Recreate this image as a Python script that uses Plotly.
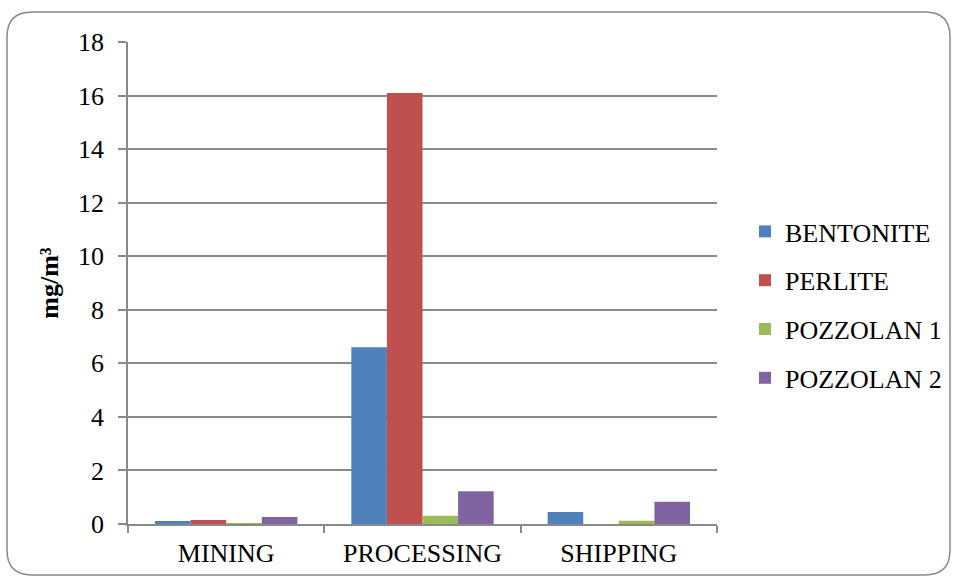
import plotly.graph_objects as go

categories = ["MINING", "PROCESSING", "SHIPPING"]
series_names = ["BENTONITE", "PERLITE", "POZZOLAN 1", "POZZOLAN 2"]
bentonite = [0.11, 6.6, 0.45]
perlite = [0.15, 16.1, 0.0]
pozzolan1 = [0.03, 0.31, 0.12]
pozzolan2 = [0.26, 1.22, 0.83]
series_values = [bentonite, perlite, pozzolan1, pozzolan2]
colors = ["#4F81BD", "#C0504D", "#9BBB59", "#8064A2"]
y_ticks = list(range(0, 19, 2))

W, H = 957, 581
ML, MR, MT, MB = 128, 240, 42, 57
PW, PH = W - ML - MR, H - MT - MB
FONT = "Times New Roman, Liberation Serif, serif"
FS = 26
GRAY = "#898989"

fig = go.Figure()
for i, (name, vals) in enumerate(zip(series_names, series_values)):
    fig.add_trace(go.Bar(
        x=categories, y=vals, name=name, legendgroup=name,
        marker=dict(color=colors[i], line=dict(width=0)),
    ))


def px_x(p):
    return (p - ML) / PW


def px_y(p):
    return (H - MB - p) / PH


# rounded border around the whole chart
x0, y0, x1, y1, r = 7, 12, 950, 575, 25
pts = [
    f"M {px_x(x0 + r)},{px_y(y0)}",
    f"L {px_x(x1 - r)},{px_y(y0)}",
    f"Q {px_x(x1)},{px_y(y0)} {px_x(x1)},{px_y(y0 + r)}",
    f"L {px_x(x1)},{px_y(y1 - r)}",
    f"Q {px_x(x1)},{px_y(y1)} {px_x(x1 - r)},{px_y(y1)}",
    f"L {px_x(x0 + r)},{px_y(y1)}",
    f"Q {px_x(x0)},{px_y(y1)} {px_x(x0)},{px_y(y1 - r)}",
    f"L {px_x(x0)},{px_y(y0 + r)}",
    f"Q {px_x(x0)},{px_y(y0)} {px_x(x0 + r)},{px_y(y0)} Z",
]
fig.add_shape(type="path", xref="paper", yref="paper", path=" ".join(pts),
              line=dict(color=GRAY, width=1.5), layer="below")

fig.update_layout(
    width=W, height=H,
    margin=dict(l=ML, r=MR, t=MT, b=MB, autoexpand=False),
    paper_bgcolor="white", plot_bgcolor="white",
    font=dict(family=FONT, size=FS, color="black"),
    barmode="group", bargap=0.275, bargroupgap=0,
    showlegend=True,
    legend=dict(
        x=px_x(745), xanchor="left", y=px_y(305), yanchor="middle",
        font=dict(family=FONT, size=FS, color="black"),
        tracegroupgap=12, bgcolor="rgba(0,0,0,0)",
    ),
    xaxis=dict(
        showline=True, linecolor=GRAY, linewidth=1.5,
        ticks="outside", ticklen=7, tickcolor=GRAY, tickwidth=1.5,
        tickson="boundaries", showgrid=False,
        ticklabelstandoff=5,
        tickfont=dict(family=FONT, size=FS, color="black"),
        automargin=False,
    ),
    yaxis=dict(
        range=[0, 18], tickvals=y_ticks, ticktext=[str(v) for v in y_ticks],
        showline=True, linecolor=GRAY, linewidth=1.5,
        showgrid=True, gridcolor=GRAY, gridwidth=1.5, zeroline=False,
        ticks="outside", ticklen=8, tickcolor=GRAY, tickwidth=1.5,
        ticklabelstandoff=9,
        tickfont=dict(family=FONT, size=FS, color="black"),
        title=dict(text="<b>mg/m³</b>", font=dict(family=FONT, size=FS, color="black"), standoff=12),
        automargin=False,
    ),
)

fig.write_html("out.html")
